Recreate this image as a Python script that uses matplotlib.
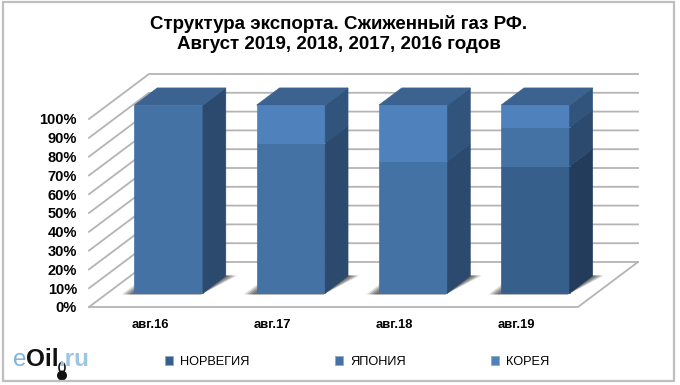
import matplotlib
matplotlib.use("Agg")
import matplotlib.pyplot as plt
from matplotlib.patches import Patch, Polygon, Rectangle, Ellipse

plt.rcParams['font.family'] = ['Liberation Sans', 'DejaVu Sans']

months = ["авг.16", "авг.17", "авг.18", "авг.19"]
series_names = ["НОРВЕГИЯ", "ЯПОНИЯ", "КОРЕЯ"]
norway = [0, 0, 0, 67.5]
japan = [100, 80, 70.2, 20.8]
korea = [0, 20, 29.8, 11.7]
y_ticks = [0, 10, 20, 30, 40, 50, 60, 70, 80, 90, 100]
y_labels = ["0%", "10%", "20%", "30%", "40%", "50%", "60%", "70%", "80%", "90%", "100%"]

front_colors = ["#365F8B", "#4472A5", "#4F81BD"]
side_colors = ["#233C5C", "#2C4A6E", "#31547D"]
top_color = "#3C628F"
grid_color = "#B4B4B4"

W, H = 680, 385
fig = plt.figure(figsize=(W / 100, H / 100), dpi=100, facecolor="white")
ax = fig.add_axes([89 / W, (H - 307) / H, 489 / W, 188 / H])
ax.set_xlim(-0.5, 3.5)
ax.set_ylim(0, 100)
ax.patch.set_visible(False)
for s in ax.spines.values():
    s.set_visible(False)

# fake 3d: depth 0..1 goes right and up on the page
depth_x = 60 / 122.25
depth_y = 45 / 1.88
bar_w = 0.56
d0, d1 = 0.31, 0.69


def pt(x, v, d):
    return (x + depth_x * d, v + depth_y * d)


# walls and floor
x0, x1 = -0.5, 3.5
for v in y_ticks:
    ax.plot(*zip(pt(x0, v, 0), pt(x0, v, 1), pt(x1, v, 1)), color=grid_color, lw=1.3,
            clip_on=False, zorder=1, solid_joinstyle="miter")
ax.plot(*zip(pt(x0, 0, 0), pt(x1, 0, 0), pt(x1, 0, 1)), color=grid_color, lw=1.3,
        clip_on=False, zorder=1, solid_joinstyle="miter")

# bars
for i in range(4):
    l = i - bar_w / 2
    r = i + bar_w / 2
    # soft shadow on the floor
    for grow, a in [(0.09, 0.2), (0.07, 0.28), (0.05, 0.36), (0.025, 0.45)]:
        shadow = [pt(l - grow, 0, d0 - 0.03), pt(r, 0, d0 - 0.03), pt(r + grow, 0, d1 + 0.01),
                  pt(r, 0, d1 + 0.01), pt(l - grow, 0, d0 + 0.3)]
        ax.add_patch(Polygon(shadow, facecolor="#505050", edgecolor="none", alpha=a,
                             clip_on=False, zorder=2))
    bottom = 0
    for vals, fc, sc in zip([norway, japan, korea], front_colors, side_colors):
        v = vals[i]
        if v == 0:
            continue
        top = bottom + v
        ax.add_patch(Polygon([pt(l, bottom, d0), pt(r, bottom, d0), pt(r, top, d0), pt(l, top, d0)],
                             facecolor=fc, edgecolor=fc, lw=0.5, clip_on=False, zorder=3))
        ax.add_patch(Polygon([pt(r, bottom, d0), pt(r, bottom, d1), pt(r, top, d1), pt(r, top, d0)],
                             facecolor=sc, edgecolor=sc, lw=0.5, clip_on=False, zorder=3))
        bottom = top
    ax.add_patch(Polygon([pt(l, 100, d0), pt(r, 100, d0), pt(r, 100, d1), pt(l, 100, d1)],
                         facecolor=top_color, edgecolor=top_color, lw=0.5, clip_on=False, zorder=3))

ax.set_xticks(range(4))
ax.set_xticklabels(months, fontsize=9.4, fontweight="bold")
ax.set_yticks(y_ticks)
ax.set_yticklabels(y_labels, fontsize=10.5, fontweight="bold")
ax.tick_params(axis="x", length=0, pad=9)
ax.tick_params(axis="y", length=0, pad=8.6)

fig.text(339 / W, 1 - 34 / H, "Структура экспорта. Сжиженный газ РФ.\nАвгуст 2019, 2018, 2017, 2016 годов",
         ha="center", va="center", fontsize=13.5, fontweight="bold", linespacing=1.2)

handles = [Patch(facecolor=c, edgecolor="#8FA9C8", lw=0.6) for c in front_colors]
fig.legend(handles, series_names, loc="center left", bbox_to_anchor=(165 / W, 1 - 362 / H),
           ncol=3, frameon=False, fontsize=9.2, handlelength=0.65, handleheight=0.65,
           handletextpad=0.55, columnspacing=6.65, borderpad=0, borderaxespad=0)

# logo
r = fig.canvas.get_renderer()
x = 12.5
for part, col, wt in [("e", "#7FB4DC", "normal"), ("Oil", "#111111", "bold"), (".ru", "#9CC6E4", "bold")]:
    t = fig.text(x / W, 1 - 366 / H, part, color=col, fontsize=17.5, fontweight=wt, ha="left", va="baseline")
    x = t.get_window_extent(r).x1
fig.add_artist(Ellipse((62 / W, 1 - 367.5 / H), 6 / W, 10 / H, transform=fig.transFigure,
                       facecolor="white", edgecolor="#111111", lw=1.2))
fig.add_artist(Ellipse((62 / W, 1 - 375.5 / H), 10 / W, 10 / H, transform=fig.transFigure,
                       facecolor="#111111", edgecolor="none"))

# chart frame
fig.add_artist(Rectangle((3 / W, 1 - 381 / H), 671 / W, 379 / H, transform=fig.transFigure,
                         facecolor="none", edgecolor="#BFBFBF", lw=1.6))

fig.savefig("out.png", dpi=100)
